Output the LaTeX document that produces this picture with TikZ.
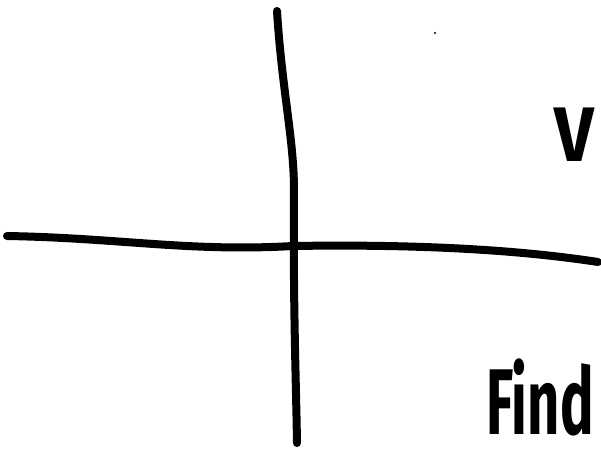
\documentclass[tikz,border=0pt]{standalone}
\usepackage{fontspec}
\setmainfont{Fira Sans}
\newfontfamily\findfont[FakeStretch=0.6]{Fira Sans}
\newfontfamily\vfont[FakeStretch=0.9]{Fira Sans}
\begin{document}
\begin{tikzpicture}[x=0.75pt,y=-0.75pt,
  stroke/.style={line width=6pt,line cap=round,line join=round,black},
  hand/.style={inner sep=0pt,anchor=south west}]
\useasboundingbox (0,0) rectangle (601,452);
% axes
\coordinate (vt) at (277,11);
\coordinate (vm) at (294,190);
\coordinate (vb) at (297,443);
\coordinate (hl) at (7,236);
\coordinate (hc) at (293,246);
\coordinate (hr) at (598,262);
\draw[stroke] (vt) .. controls (282,90) and (294,140) .. (vm) .. controls (293,300) and (296,380) .. (vb);
\draw[stroke] (hl) .. controls (120,238) and (190,252) .. (hc) .. controls (420,244) and (520,250) .. (hr);
% tiny dot
\fill (435,33) circle (1.2);
% labels
\node[hand,font=\vfont\bfseries\fontsize{58pt}{58pt}\selectfont] (v) at (554,162) {V};
\node[hand,font=\findfont\bfseries\fontsize{70pt}{70pt}\selectfont] (find) at (486,436) {Find};
\end{tikzpicture}
\end{document}
